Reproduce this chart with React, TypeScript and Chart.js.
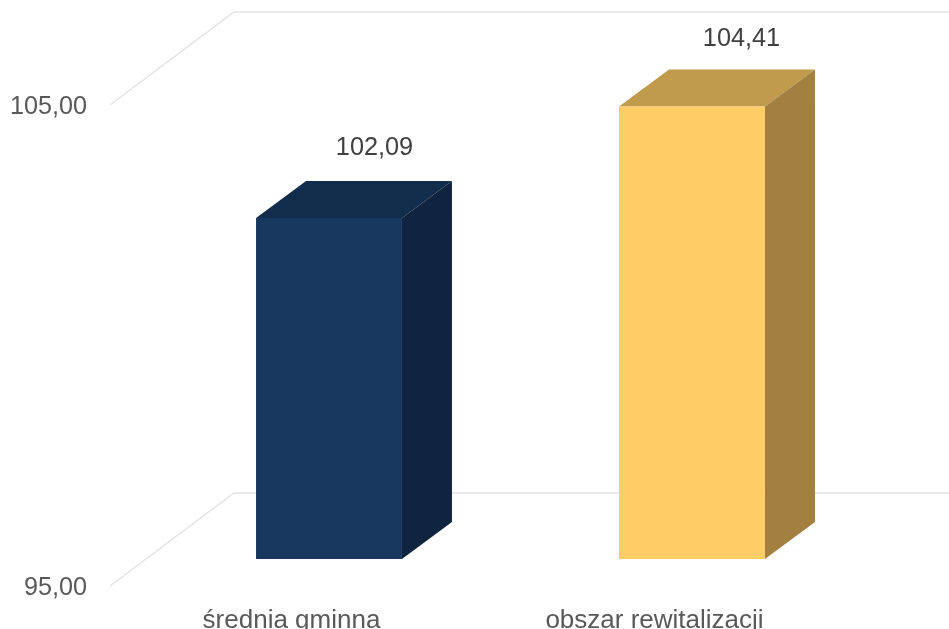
import React, { useEffect, useRef } from "react";
import { Chart, registerables } from "chart.js";

Chart.register(...registerables);

const categories = ["średnia gminna", "obszar rewitalizacji"];
const values = [102.09, 104.41];
const axisTicks = [95, 105];
const frontColors = ["#17375E", "#FFCC66"];
const topColors = ["#122C4B", "#C09A4D"];
const sideColors = ["#0F243E", "#A37F40"];

const FONT = "'Liberation Sans', Arial, sans-serif";
const WALL = { dx: 124, dy: -93 };
const BAR_SHIFT = { dx: 37.5, dy: -27 };
const BAR_DEPTH = { dx: 50, dy: -37 };
const LABEL_SHIFT = [
  { dx: 45.5, dy: -70 },
  { dx: 49.5, dy: -67 },
];
const fmt = (v: number) => v.toFixed(2).replace(".", ",");

const scene3d = {
  id: "scene3d",
  beforeDatasetsDraw(chart: any) {
    const { ctx, chartArea: a, scales } = chart;
    const y = scales.y;
    ctx.save();
    ctx.strokeStyle = "#E2E2E2";
    ctx.lineWidth = 1.3;
    y.ticks.forEach((t: any) => {
      const py = y.getPixelForValue(t.value);
      ctx.beginPath();
      ctx.moveTo(a.left, py);
      ctx.lineTo(a.left + WALL.dx, py + WALL.dy);
      ctx.lineTo(a.right + WALL.dx, py + WALL.dy);
      ctx.stroke();
    });
    const bars = chart.getDatasetMeta(0).data;
    bars.forEach((b: any, i: number) => {
      const l = b.x - b.width / 2 + BAR_SHIFT.dx;
      const r = b.x + b.width / 2 + BAR_SHIFT.dx;
      const top = b.y + BAR_SHIFT.dy;
      const bot = b.base + BAR_SHIFT.dy;
      ctx.fillStyle = topColors[i];
      ctx.beginPath();
      ctx.moveTo(l, top);
      ctx.lineTo(l + BAR_DEPTH.dx, top + BAR_DEPTH.dy);
      ctx.lineTo(r + BAR_DEPTH.dx, top + BAR_DEPTH.dy);
      ctx.lineTo(r, top);
      ctx.closePath();
      ctx.fill();
      ctx.fillStyle = sideColors[i];
      ctx.beginPath();
      ctx.moveTo(r, top);
      ctx.lineTo(r + BAR_DEPTH.dx, top + BAR_DEPTH.dy);
      ctx.lineTo(r + BAR_DEPTH.dx, bot + BAR_DEPTH.dy);
      ctx.lineTo(r, bot);
      ctx.closePath();
      ctx.fill();
    });
    ctx.restore();
    ctx.save();
    ctx.translate(BAR_SHIFT.dx, BAR_SHIFT.dy);
  },
  afterDatasetsDraw(chart: any) {
    const { ctx } = chart;
    ctx.restore();
    ctx.save();
    ctx.fillStyle = "#404040";
    ctx.font = `25.3px ${FONT}`;
    ctx.textAlign = "center";
    ctx.textBaseline = "middle";
    chart.getDatasetMeta(0).data.forEach((b: any, i: number) => {
      ctx.fillText(fmt(values[i]), b.x + BAR_SHIFT.dx + LABEL_SHIFT[i].dx, b.y + BAR_SHIFT.dy + LABEL_SHIFT[i].dy);
    });
    ctx.restore();
  },
};

export default function App() {
  const ref = useRef<HTMLCanvasElement>(null);
  useEffect(() => {
    const chart = new Chart(ref.current!, {
      type: "bar",
      data: {
        labels: categories,
        datasets: [
          {
            data: values,
            base: axisTicks[0],
            backgroundColor: frontColors,
            borderWidth: 0,
            categoryPercentage: 1,
            barPercentage: 0.402,
            clip: false,
          } as any,
        ],
      },
      plugins: [scene3d],
      options: {
        responsive: false,
        animation: false,
        layout: { padding: { top: 105, right: 113, left: 0, bottom: 0 } },
        plugins: { legend: { display: false }, tooltip: { enabled: false }, title: { display: false } },
        scales: {
          x: {
            grid: { display: false, drawTicks: false },
            border: { display: false },
            ticks: { color: "#595959", font: { family: FONT, size: 26 }, padding: 19, maxRotation: 0 },
            afterFit: (s: any) => {
              s.height = 43;
            },
          },
          y: {
            min: axisTicks[0],
            max: axisTicks[1],
            grid: { display: false, drawTicks: false },
            border: { display: false },
            afterBuildTicks: (s: any) => {
              s.ticks = axisTicks.map((value) => ({ value }));
            },
            ticks: {
              color: "#595959",
              font: { family: FONT, size: 25.2 },
              padding: 23,
              labelOffset: 2,
              callback: (v: any) => fmt(Number(v)),
            },
            afterFit: (s: any) => {
              s.width = 110;
            },
          },
        },
      },
    });
    return () => chart.destroy();
  }, []);
  return (
    <div style={{ position: "fixed", left: 0, top: 0, width: 949, height: 629, background: "#fff", overflow: "hidden" }}>
      <canvas ref={ref} width={949} height={629} style={{ display: "block" }} />
    </div>
  );
}
